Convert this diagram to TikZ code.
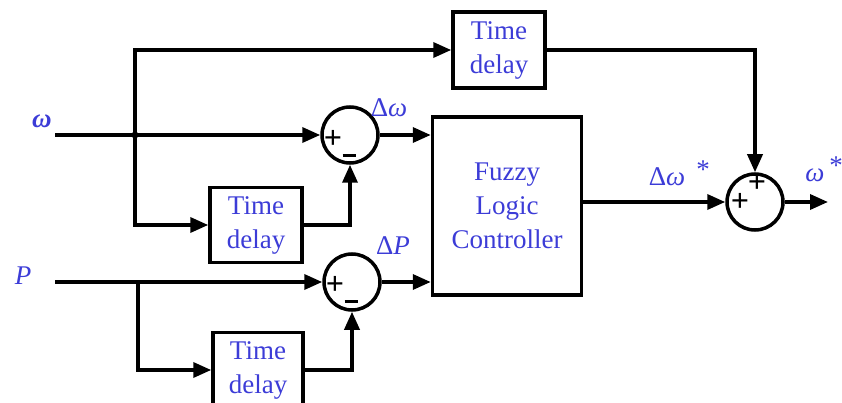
\documentclass[tikz,border=0pt]{standalone}
\usepackage{fontspec}
\setmainfont{Liberation Serif}
\usetikzlibrary{arrows.meta}
\definecolor{lbl}{RGB}{60,60,215}
\begin{document}
\begin{tikzpicture}[x=1pt,y=-1pt,
  wire/.style={line width=3.5pt},
  arr/.style={wire,-{Triangle[length=18pt,width=15pt]}},
  blk/.style={draw,line width=3.5pt,inner sep=0pt,text=lbl,align=center,font=\fontsize{27}{34}\selectfont},
  sumc/.style={draw,circle,line width=3.5pt,minimum size=56pt,inner sep=0pt},
  sig/.style={font=\fontsize{32}{32}\selectfont\bfseries,inner sep=0pt},
  lab/.style={text=lbl,inner sep=0pt,font=\fontsize{27}{27}\selectfont}]
\useasboundingbox (0,0) rectangle (842,403);
% blocks
\node[blk,minimum width=92pt,minimum height=76pt] (td0) at (499,50) {Time\\delay};
\node[blk,minimum width=92pt,minimum height=75pt] (td1) at (256,225) {Time\\delay};
\node[blk,minimum width=90pt,minimum height=75pt] (td2) at (258,370) {Time\\delay};
\node[blk,minimum width=149pt,minimum height=178pt] (flc) at (507,206) {Fuzzy\\Logic\\Controller};
\node[sumc] (s1) at (350,135) {};
\node[sumc] (s2) at (352,282) {};
\node[sumc] (s3) at (755,202) {};
% signs
\node[sig] at (333,139) {+};
\node[sig] at (349,156) {\rule{13pt}{3pt}};
\node[sig] at (335,285) {+};
\node[sig] at (351,301) {\rule{13pt}{3pt}};
\node[sig] at (757,183) {+};
\node[sig] at (740,202) {+};
% labels
\node[lab,font=\fontsize{27}{27}\selectfont\bfseries\itshape] (lw) at (42,121) {ω};
\node[lab,font=\fontsize{27}{27}\selectfont\itshape] (lp) at (23,276) {P};
\node[lab] (ldw) at (389,108) {Δ\textit{ω}};
\node[lab] (ldp) at (393,246) {Δ\textit{P}};
\node[lab] (ldws) at (667,177) {Δ\textit{ω}};
\node[lab] (st1) at (703,170) {*};
\node[lab] (lwo) at (815,175) {\textit{ω}};
\node[lab] (st2) at (836,166) {*};
% coordinates
\coordinate (win) at (55,135);
\coordinate (j1) at (135,135);
\coordinate (pin) at (55,282);
\coordinate (j2) at (138,282);
\coordinate (out) at (828,202);
\fill (j1) circle (3.5pt);
% wires
\draw[arr] (win) -- (s1.west);
\draw[arr] (j1) |- (td0.west);
\draw[arr] (j1) |- (td1.west);
\draw[arr] (td1.east) -| (s1.south);
\draw[arr] (s1.east) -- (s1.east -| flc.west);
\draw[arr] (pin) -- (s2.west);
\draw[arr] (j2) |- (td2.west);
\draw[arr] (td2.east) -| (s2.south);
\draw[arr] (s2.east) -- (s2.east -| flc.west);
\draw[arr] (td0.east) -| (s3.north);
\draw[arr] (flc.east |- s3.west) -- (s3.west);
\draw[arr] (s3.east) -- (out);
\end{tikzpicture}
\end{document}
